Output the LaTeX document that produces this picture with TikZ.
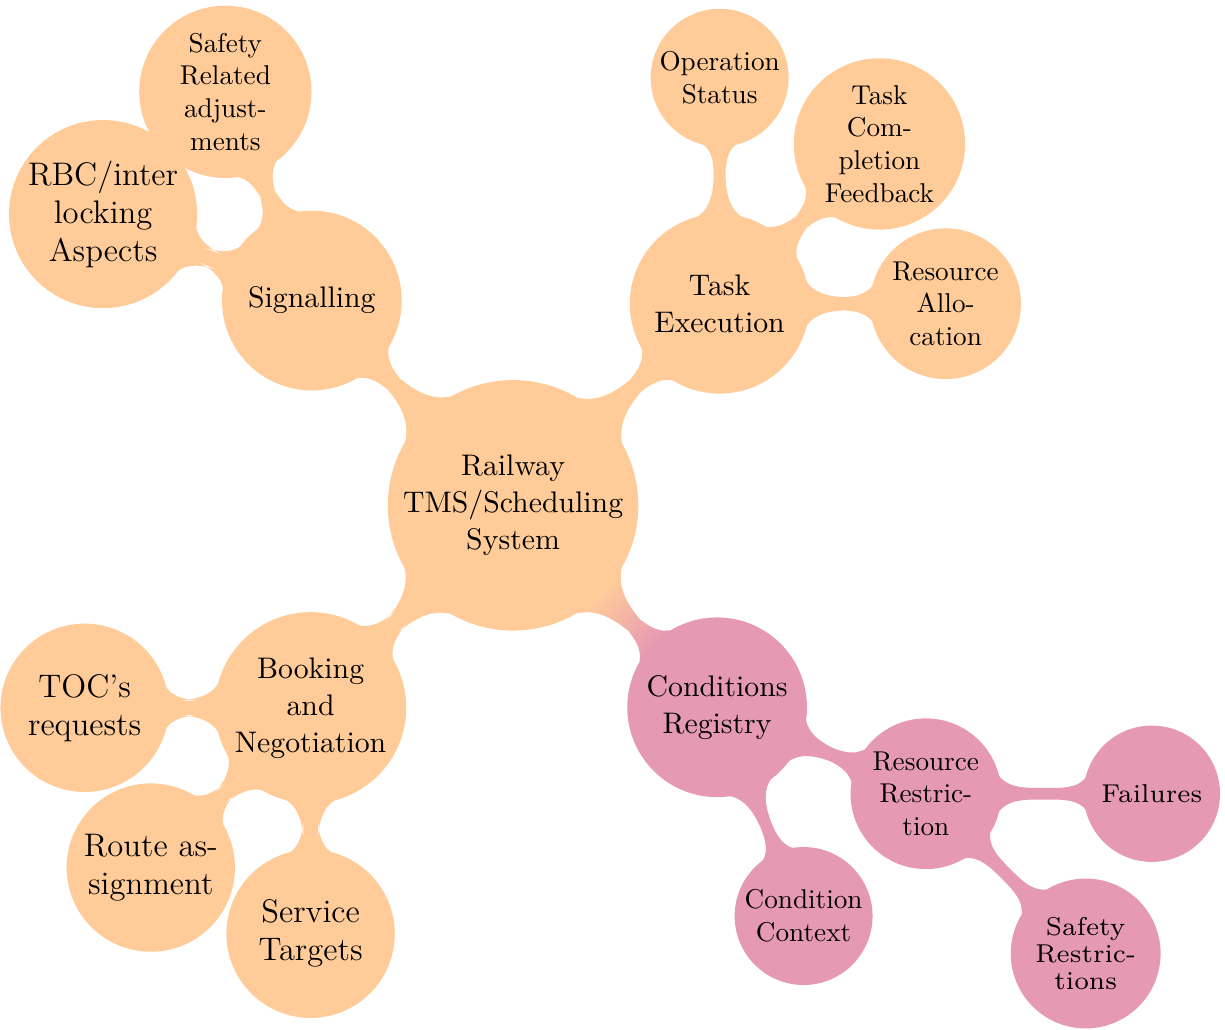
\documentclass[11pt,tikz,border=0pt]{standalone}
\usetikzlibrary{mindmap,calc}

% wide small-size cut for the last ring
\font\tinyleaffont="[lmroman7-regular.otf]" at 9.5pt

\tikzset{
  hub/.style={concept, inner sep=0pt, align=center, minimum size=3.19cm, text width=2.92cm, font=\normalsize},
  branch/.style={concept, inner sep=0pt, align=center, minimum size=2.28cm, text width=2.05cm, font=\normalsize},
  leaf/.style={concept, inner sep=0pt, align=center, minimum size=1.74cm, text width=1.57cm, font=\small},
  bigleaf/.style={leaf, text width=1.95cm, font=\large},
  tinyleaf/.style={leaf, minimum size=1.72cm, text width=1.65cm, font={\tinyleaffont\baselineskip=10pt}},
  cond color/.style={concept color=purple!40},
}

\begin{document}
\begin{tikzpicture}[mindmap, concept color=orange!40, text=black]
\useasboundingbox (-6.63,-6.77) rectangle (9.20,6.53);

% centre and first ring
\node[hub] (tms) at (0,0) {Railway\\TMS/Scheduling\\System};
\node[branch] (sig)  at (134.5:3.71) {Signalling};
\node[branch] (exec) at (44.3:3.73)  {Task\\Execution};
\node[branch] (book) at (225:3.70) {Booking\\and\\Negotiation};
\node[branch, cond color] (cond) at (-44.7:3.71) {Conditions\\Registry};

% signalling side
\node[leaf]    (adj) at ($(sig)+(112.5:2.92)$) {Safety\\Related\\adjust-\\ments};
\node[bigleaf] (rbc) at ($(sig)+(157.5:2.92)$) {RBC/inter\\locking\\Aspects};

% task execution side
\node[leaf] (ops)   at ($(exec)+(90:2.92)$) {Operation\\Status};
\node[leaf] (done)  at ($(exec)+(45:2.92)$) {Task\\Com-\\pletion\\Feedback};
\node[leaf] (alloc) at ($(exec)+(0:2.92)$)  {Resource\\Allo-\\cation};

% booking side
\node[bigleaf] (toc)   at ($(book)+(180:2.92)$) {TOC's\\requests};
\node[bigleaf] (route) at ($(book)+(225:2.92)$) {Route as-\\signment};
\node[bigleaf] (svc)   at ($(book)+(270:2.92)$) {Service\\Targets};

% conditions side
\node[leaf, cond color] (ctx)  at ($(cond)+(-67.5:2.92)$) {Condition\\Context};
\node[leaf, cond color] (rres) at ($(cond)+(-22.5:2.92)$) {Resource\\Restric-\\tion};
\node[tinyleaf, cond color] (fail) at ($(rres)+(0:2.92)$)   {Failures};
\node[tinyleaf, cond color] (safe) at ($(rres)+(-45:2.92)$) {Safety\\Restric-\\tions};

% connections
\path (tms) to[circle connection bar] (sig);
\path (tms) to[circle connection bar] (exec);
\path (tms) to[circle connection bar] (book);
\path (tms) to[circle connection bar switch color=from (orange!40) to (purple!40)] (cond);
\path (sig) to[circle connection bar] (adj);
\path (sig) to[circle connection bar] (rbc);
\path (exec) to[circle connection bar] (ops);
\path (exec) to[circle connection bar] (done);
\path (exec) to[circle connection bar] (alloc);
\path (book) to[circle connection bar] (toc);
\path (book) to[circle connection bar] (route);
\path (book) to[circle connection bar] (svc);
\path[cond color] (cond) to[circle connection bar] (ctx);
\path[cond color] (cond) to[circle connection bar] (rres);
\path[cond color] (rres) to[circle connection bar] (fail);
\path[cond color] (rres) to[circle connection bar] (safe);
\end{tikzpicture}
\end{document}
